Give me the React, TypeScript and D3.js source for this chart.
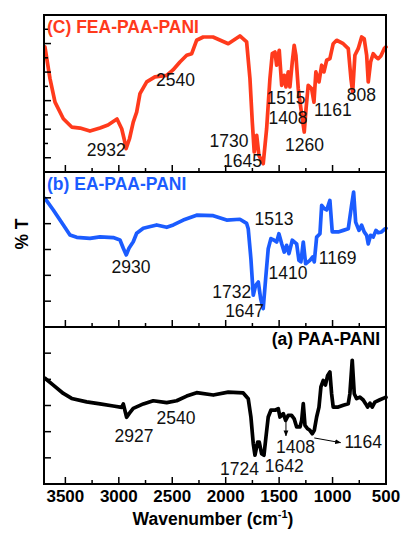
import * as d3 from "d3";

// FTIR spectra, [wavenumber (cm-1), %T in panel units]
const feaPaaPani: [number, number][] = [
  [3691, 87.6], [3644, 65.4], [3597, 49.0], [3519, 37.3], [3441, 31.5], [3363, 30.8],
  [3270, 28.7], [3176, 30.8], [3101, 32.9], [3017, 37.1], [2973, 30.3], [2948, 22.4],
  [2932, 16.3], [2900, 23.3], [2865, 35.0], [2833, 42.0], [2802, 54.9], [2739, 63.1],
  [2662, 66.6], [2552, 67.7], [2493, 71.5], [2428, 77.1], [2365, 81.8], [2318, 82.9],
  [2272, 92.3], [2210, 94.6], [2119, 94.6], [1976, 89.9], [1867, 95.3], [1804, 91.1],
  [1773, 65.4], [1751, 35.0], [1733, 14.0], [1710, 25.7], [1689, 11.7], [1649, 5.8],
  [1617, 30.3], [1586, 65.4], [1564, 82.9], [1539, 84.1], [1523, 74.8], [1499, 85.3],
  [1476, 60.7], [1452, 67.7], [1436, 59.6], [1415, 70.1], [1399, 59.6], [1377, 77.1],
  [1359, 88.8], [1343, 81.8], [1321, 58.4], [1296, 44.4], [1265, 28.0], [1248, 44.4],
  [1228, 60.7], [1196, 58.4], [1174, 49.0], [1156, 70.1], [1127, 63.1], [1102, 74.8],
  [1081, 70.1], [1055, 78.3], [1025, 79.4], [994, 89.9], [962, 92.3], [900, 89.9],
  [853, 86.4], [828, 65.4], [812, 56.0], [791, 81.8], [760, 86.4], [728, 94.6],
  [704, 93.4], [681, 81.8], [666, 63.1], [644, 77.1], [620, 82.9], [594, 80.6],
  [573, 79.4], [548, 81.3], [517, 86.4], [500, 87.6],
];

const eaPaaPani: [number, number][] = [
  [3691, 49.8], [3613, 45.3], [3519, 39.5], [3457, 35.6], [3394, 34.7], [3270, 34.3],
  [3176, 34.9], [3052, 34.6], [2989, 33.7], [2958, 30.5], [2930, 27.9], [2905, 30.5],
  [2865, 33.0], [2833, 36.3], [2771, 38.2], [2646, 39.5], [2552, 38.6], [2490, 39.5],
  [2397, 41.4], [2272, 43.3], [2116, 43.1], [1991, 41.4], [1867, 41.7], [1804, 40.1],
  [1789, 38.0], [1764, 26.4], [1742, 12.3], [1720, 16.1], [1695, 17.4], [1673, 11.0],
  [1649, 7.1], [1626, 18.7], [1602, 30.3], [1577, 34.2], [1546, 33.6], [1523, 32.9],
  [1502, 36.1], [1476, 32.2], [1452, 29.0], [1430, 31.6], [1408, 28.4], [1377, 33.6],
  [1336, 32.2], [1315, 25.8], [1296, 25.2], [1274, 32.9], [1252, 24.5], [1212, 25.8],
  [1186, 27.1], [1171, 25.2], [1149, 34.8], [1118, 36.1], [1102, 47.1], [1078, 45.8],
  [1055, 45.3], [1025, 49.0], [1003, 36.8], [947, 36.8], [900, 37.4], [853, 38.0],
  [822, 47.1], [803, 52.2], [784, 40.6], [753, 37.4], [728, 39.4], [704, 36.8],
  [681, 35.5], [666, 32.2], [644, 35.5], [620, 34.8], [594, 37.4], [573, 36.5],
  [541, 36.8], [510, 38.0], [500, 38.2],
];

const paaPani: [number, number][] = [
  [3691, 40.4], [3613, 37.8], [3519, 34.6], [3441, 32.7], [3301, 31.4], [3176, 30.6],
  [3052, 29.8], [2973, 29.3], [2958, 30.6], [2927, 25.5], [2902, 27.0], [2865, 28.9],
  [2771, 30.6], [2678, 31.8], [2552, 31.1], [2459, 31.8], [2365, 33.6], [2272, 34.9],
  [2116, 34.0], [1976, 35.1], [1836, 34.8], [1789, 32.6], [1764, 25.6], [1742, 15.4],
  [1726, 11.0], [1701, 16.0], [1686, 16.0], [1664, 11.6], [1642, 11.0], [1623, 18.0],
  [1602, 25.6], [1577, 28.2], [1539, 28.2], [1508, 28.8], [1492, 25.6], [1461, 26.9],
  [1439, 24.3], [1415, 26.2], [1383, 26.2], [1359, 24.9], [1336, 21.8], [1305, 21.8],
  [1289, 24.3], [1274, 30.7], [1258, 22.4], [1233, 21.1], [1212, 20.5], [1190, 19.2],
  [1171, 20.5], [1149, 25.6], [1127, 29.4], [1109, 37.1], [1087, 39.6], [1067, 37.8],
  [1046, 41.5], [1025, 42.8], [1009, 34.5], [994, 29.4], [947, 29.4], [900, 30.1],
  [853, 30.7], [838, 34.5], [816, 47.3], [797, 34.5], [775, 32.6], [744, 33.2],
  [713, 32.1], [691, 30.7], [672, 29.4], [650, 30.9], [629, 29.4], [604, 31.3],
  [557, 32.2], [510, 33.0], [500, 33.1],
];

// peak labels: [text, wavenumber, value] (text centred, value = baseline)
const feaLabels: [string, number, number][] = [
  ["2932", 3117, 11.2], ["2540", 2470, 60.3], ["1730", 1969, 17.7], ["1645", 1843, 3.7],
  ["1515", 1436, 47.9], ["1408", 1417, 33.8], ["1260", 1263, 14.5], ["1161", 997, 39.2],
  ["808", 730, 49.5],
];
const eaLabels: [string, number, number][] = [
  ["2930", 2886, 20.8], ["1513", 1548, 39.4], ["1410", 1417, 18.7], ["1169", 953, 24.3],
  ["1732", 1944, 11.1], ["1647", 1823, 3.9],
];
const paaLabels: [string, number, number][] = [
  ["2927", 2858, 16.2], ["2540", 2465, 22.9], ["1724", 1871, 3.3], ["1642", 1452, 4.6],
  ["1408", 1347, 11.8], ["1164", 713, 13.9],
];
// arrows in panel (a): [w1, v1, w2, v2]
const paaArrows: [number, number, number, number][] = [
  [1436, 23.7, 1436, 18.4],
  [1171, 17.6, 925, 15.8],
];

const xTicks = [3500, 3000, 2500, 2000, 1500, 1000, 500];
const xMinorTicks = [3250, 2750, 2250, 1750, 1250, 750];

const FONT = "'Liberation Sans', Arial, Helvetica, sans-serif";
const RED = "#ff3a1c";
const BLUE = "#1b5cff";

const panels = [
  {
    name: "(C) FEA-PAA-PANI", data: feaPaaPani, labels: feaLabels, color: RED,
    top: 15, bottom: 172, ymax: 110, major: [10, 30, 50, 70, 90], minor: [20, 40, 60, 80, 100],
    titleAnchor: "start",
  },
  {
    name: "(b) EA-PAA-PANI", data: eaPaaPani, labels: eaLabels, color: BLUE,
    top: 172, bottom: 327, ymax: 60, major: [10, 20, 30, 40, 50], minor: [],
    titleAnchor: "start",
  },
  {
    name: "(a) PAA-PANI", data: paaPani, labels: paaLabels, color: "#000",
    top: 327, bottom: 484, ymax: 60, major: [10, 20, 30, 40, 50], minor: [],
    titleAnchor: "end",
  },
];

export default function App() {
  const width = 403;
  const height = 534;
  const left = 44;
  const right = 386;

  const x = d3.scaleLinear().domain([3700, 500]).range([left, right]);

  return (
    <svg
      width={width}
      height={height}
      style={{ position: "absolute", left: 0, top: 0, background: "#fff" }}
      fontFamily={FONT}
    >
      <defs>
        <marker id="arr" viewBox="0 0 10 10" refX="9" refY="5" markerWidth="6" markerHeight="6" orient="auto">
          <path d="M0,1 L10,5 L0,9 z" fill="#000" />
        </marker>
      </defs>
      {panels.map((p, i) => {
        const y = d3.scaleLinear().domain([0, p.ymax]).range([p.bottom, p.top]);
        const line = d3
          .line<[number, number]>()
          .x((d) => x(d[0]))
          .y((d) => y(d[1]));
        return (
          <g key={i}>
            <path
              d={line(p.data) || ""}
              fill="none"
              stroke={p.color}
              strokeWidth={3.7}
              strokeLinejoin="round"
              strokeLinecap="round"
            />
            {/* left ticks */}
            {p.major.map((t) => (
              <line key={"ma" + t} x1={left} x2={left + 7} y1={y(t)} y2={y(t)} stroke="#000" strokeWidth={1.5} />
            ))}
            {p.minor.map((t) => (
              <line key={"mi" + t} x1={left} x2={left + 4} y1={y(t)} y2={y(t)} stroke="#000" strokeWidth={1.5} />
            ))}
            {/* bottom ticks, pointing up */}
            {xTicks.map((t) => (
              <line key={"xt" + t} x1={x(t)} x2={x(t)} y1={p.bottom} y2={p.bottom - 7} stroke="#000" strokeWidth={1.5} />
            ))}
            {xMinorTicks.map((t) => (
              <line key={"xm" + t} x1={x(t)} x2={x(t)} y1={p.bottom} y2={p.bottom - 4} stroke="#000" strokeWidth={1.5} />
            ))}
            <line x1={left} x2={right} y1={p.bottom} y2={p.bottom} stroke="#000" strokeWidth={2} />
            <text
              x={p.titleAnchor === "start" ? left + 3 : right - 6}
              y={p.top + 17.5}
              textAnchor={p.titleAnchor}
              fontSize={17.5}
              fontWeight="bold"
              fill={p.color}
            >
              {p.name}
            </text>
            {p.labels.map(([txt, w, v]) => (
              <text key={txt + w} x={x(w)} y={y(v)} textAnchor="middle" fontSize={17.5} fill="#111">
                {txt}
              </text>
            ))}
            {i === 2 &&
              paaArrows.map(([w1, v1, w2, v2], k) => (
                <line
                  key={"ar" + k}
                  x1={x(w1)}
                  y1={y(v1)}
                  x2={x(w2)}
                  y2={y(v2)}
                  stroke="#000"
                  strokeWidth={1}
                  markerEnd="url(#arr)"
                />
              ))}
          </g>
        );
      })}
      {/* frame */}
      <rect x={left} y={15} width={right - left} height={484 - 15} fill="none" stroke="#000" strokeWidth={2} />
      {/* x tick labels */}
      {xTicks.map((t) => (
        <text key={"xl" + t} x={x(t)} y={502} textAnchor="middle" fontSize={17} fontWeight="bold">
          {t}
        </text>
      ))}
      <text x={213} y={525} textAnchor="middle" fontSize={17.5} fontWeight="bold">
        Wavenumber (cm
        <tspan fontSize={11} dy={-7}>-1</tspan>
        <tspan dy={7}>)</tspan>
      </text>
      <text
        transform="translate(27.5,234) rotate(-90)"
        textAnchor="middle"
        fontSize={17.5}
        fontWeight="bold"
      >
        % T
      </text>
    </svg>
  );
}
